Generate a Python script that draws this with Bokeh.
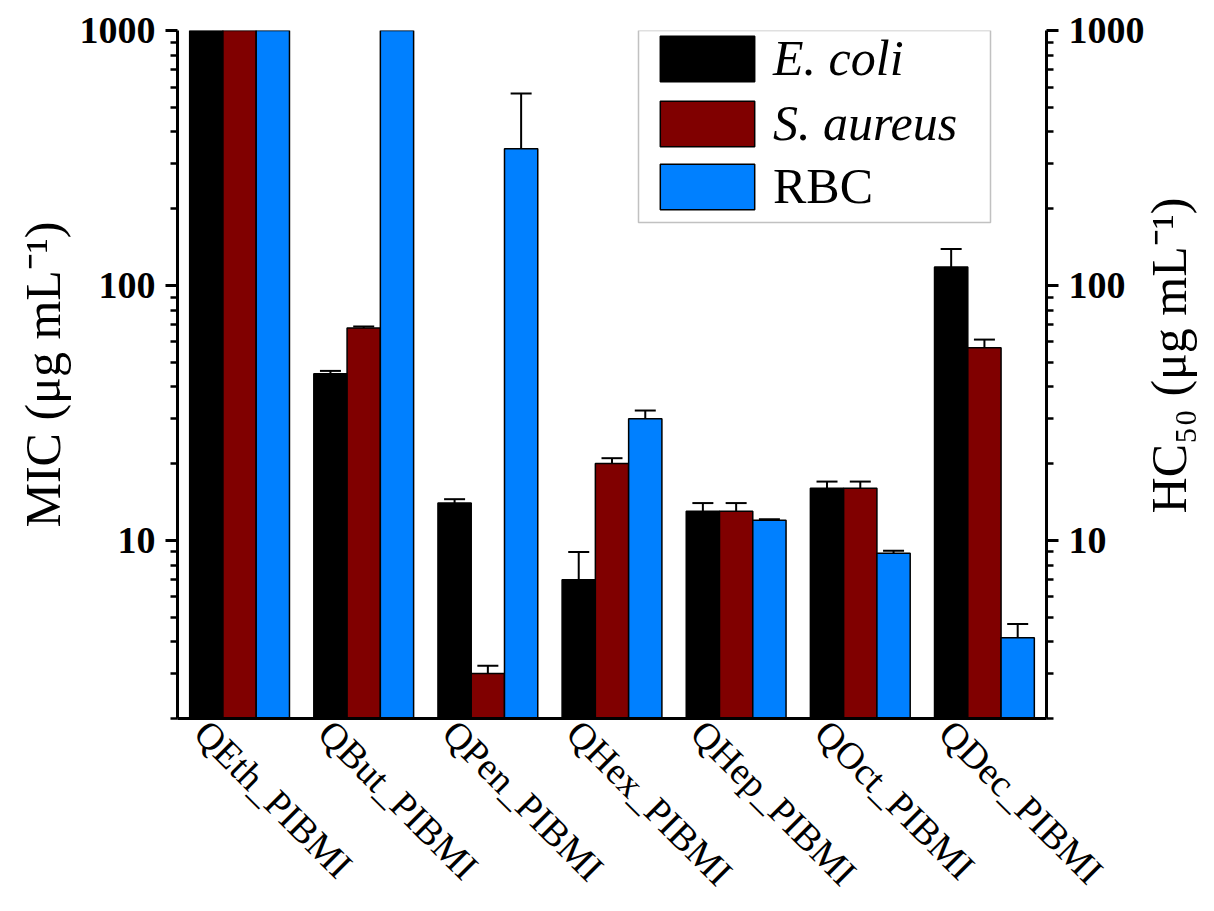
import numpy as np
from math import pi
from bokeh.plotting import figure
from bokeh.models import (ColumnDataSource, Range1d, LogAxis, LinearAxis, FixedTicker,
                          BasicTickFormatter, Whisker, TeeHead, Legend, LegendItem,
                          Label, BoxAnnotation)
from bokeh.embed import file_html
from bokeh.resources import INLINE

# ---------------- data ----------------
categories = ["QEth_PIBMI", "QBut_PIBMI", "QPen_PIBMI", "QHex_PIBMI",
              "QHep_PIBMI", "QOct_PIBMI", "QDec_PIBMI"]
ecoli = [1000, 45, 14, 7, 13, 16, 118]
ecoli_err = [0, 1.2, 0.5, 2.0, 1.0, 1.0, 21]
saureus = [1000, 68, 3.0, 20, 13, 16, 57]
saureus_err = [0, 1.0, 0.22, 1.0, 1.0, 1.0, 4.3]
rbc = [1000, 1000, 344, 30, 12, 8.9, 4.15]
rbc_err = [0, 0, 222, 2.3, 0.1, 0.2, 0.55]
series_names = ["E. coli", "S. aureus", "RBC"]
series_colors = ["#000000", "#800000", "#0080FF"]
y_major_ticks = [10, 100, 1000]
y_minor_ticks = [2, 3, 4, 5, 6, 7, 8, 9, 20, 30, 40, 50, 60, 70, 80, 90,
                 200, 300, 400, 500, 600, 700, 800, 900]
left_title = "MIC (μg mL⁻¹)"
right_title = "HC₅₀ (μg mL⁻¹)"

FONT = "Liberation Serif"

p = figure(width=1214, height=911,
           x_range=Range1d(-0.5, 6.5), y_range=Range1d(2, 1000),
           y_axis_type="log", x_axis_location=None, y_axis_location=None,
           toolbar_location=None, output_backend="svg",
           min_border_left=177, min_border_right=168,
           min_border_top=30, min_border_bottom=193)
p.outline_line_color = None
p.grid.visible = False
p.background_fill_color = "white"
p.border_fill_color = "white"

n = len(categories)
idx = np.arange(n)
bw = 0.268
offsets = [-bw, 0.0, bw]
all_vals = [ecoli, saureus, rbc]
all_errs = [ecoli_err, saureus_err, rbc_err]

renderers = []
for vals, errs, off, col in zip(all_vals, all_errs, offsets, series_colors):
    vals = np.array(vals, dtype=float)
    errs = np.array(errs, dtype=float)
    src = ColumnDataSource(dict(x=idx + off, top=vals))
    r = p.vbar(x="x", top="top", bottom=1, width=bw, source=src,
               fill_color=col, line_color="black", line_width=1.5)
    renderers.append(r)
    m = errs > 0
    wsrc = ColumnDataSource(dict(base=(idx + off)[m], upper=(vals + errs)[m],
                                 lower=(vals - errs)[m]))
    w = Whisker(source=wsrc, base="base", upper="upper", lower="lower",
                line_width=2, line_color="black",
                upper_head=TeeHead(size=21, line_width=2, line_color="black"),
                lower_head=TeeHead(size=21, line_width=2, line_color="black"))
    p.add_layout(w)


def style_y(ax):
    ax.ticker = FixedTicker(ticks=y_major_ticks, minor_ticks=y_minor_ticks)
    ax.formatter = BasicTickFormatter()
    ax.axis_line_width = 3
    ax.major_tick_out = 12
    ax.major_tick_in = 0
    ax.major_tick_line_width = 3
    ax.minor_tick_out = 7
    ax.minor_tick_in = 0
    ax.minor_tick_line_width = 2.5
    ax.major_label_text_font = FONT
    ax.major_label_text_font_style = "bold"
    ax.major_label_text_font_size = "38px"
    ax.major_label_text_color = "black"
    ax.major_label_standoff = 10
    ax.axis_label_text_font = FONT
    ax.axis_label_text_font_style = "normal"
    ax.axis_label_text_font_size = "50px"
    ax.axis_label_text_color = "black"
    ax.axis_label_standoff = 6


left = LogAxis(axis_label=left_title)
style_y(left)
p.add_layout(left, "left")

right = LogAxis()
style_y(right)
p.add_layout(right, "right")

# right axis title, reading bottom-to-top, placed in its own right-side panel
p.add_layout(Label(x=21, y=363, x_units="screen", y_units="screen",
                   text=right_title, angle=pi / 2, text_align="center",
                   text_baseline="middle", text_font=FONT,
                   text_font_size="50px", text_color="black"), "right")

label_shift = 0.31
p.extra_x_ranges = {"lab": Range1d(-0.5 + label_shift, 6.5 + label_shift)}
bottom = LinearAxis(x_range_name="lab",
                    ticker=FixedTicker(ticks=list(range(n)), minor_ticks=[]),
                    major_label_overrides={i: c for i, c in enumerate(categories)})
bottom.axis_line_width = 3
bottom.major_tick_line_color = None
bottom.minor_tick_line_color = None
bottom.major_tick_out = 0
bottom.major_tick_in = 0
bottom.major_label_orientation = -pi / 4
bottom.major_label_text_font = FONT
bottom.major_label_text_font_size = "38px"
bottom.major_label_text_color = "black"
bottom.major_label_standoff = 8
p.add_layout(bottom, "below")

# legend
legA = Legend(items=[LegendItem(label=series_names[0], renderers=[renderers[0]]),
                     LegendItem(label=series_names[1], renderers=[renderers[1]])],
              location=(471, 566))
legB = Legend(items=[LegendItem(label=series_names[2], renderers=[renderers[2]])],
              location=(471, 503))
for lg, st in ((legA, "italic"), (legB, "normal")):
    lg.glyph_width = 118
    lg.glyph_height = 57
    lg.label_height = 57
    lg.spacing = 7
    lg.padding = 0
    lg.margin = 0
    lg.label_standoff = 7
    lg.label_text_font = FONT
    lg.label_text_font_style = st
    lg.label_text_font_size = "50px"
    lg.label_text_color = "black"
    lg.label_text_baseline = "middle"
    lg.border_line_alpha = 0
    lg.background_fill_alpha = 0
    p.add_layout(lg)

p.add_layout(BoxAnnotation(left=461, right=813, bottom=496, top=688,
                           left_units="screen", right_units="screen",
                           top_units="screen", bottom_units="screen",
                           fill_alpha=0, line_color="#333333", line_width=1.5))

open("out.html", "w").write(file_html(p, INLINE))
